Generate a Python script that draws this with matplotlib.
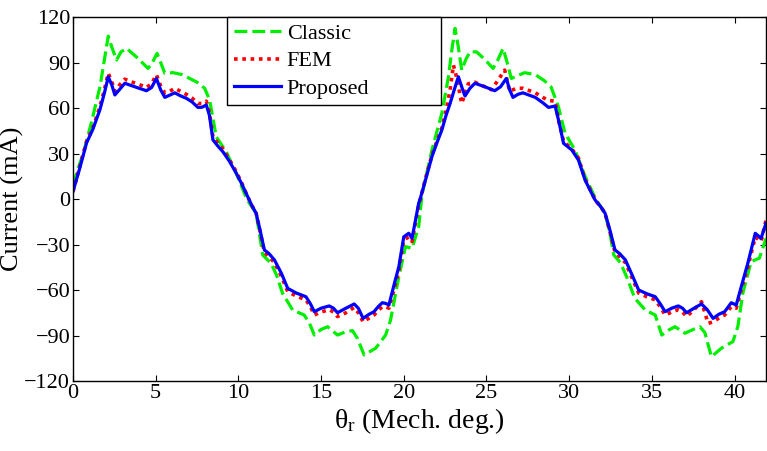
import numpy as np
import matplotlib.pyplot as plt

plt.rcParams['font.family'] = ['Liberation Serif', 'DejaVu Serif']
plt.rcParams['mathtext.fontset'] = 'custom'
plt.rcParams['mathtext.rm'] = 'Liberation Serif'
plt.rcParams['mathtext.it'] = 'Liberation Serif:italic'

# rotor angle (mech. deg.) and phase current (mA)
theta_prop = [0, 0.4, 0.82, 1.2, 1.63, 1.9, 2.13, 2.35, 2.53, 2.8, 3.13, 3.6, 4.0, 4.44, 4.75,
              5.04, 5.3, 5.55, 5.85, 6.15, 6.5, 6.85, 7.2, 7.55, 7.8, 8.06, 8.25, 8.46, 8.75,
              9.06, 9.45, 9.87, 10.2, 10.5, 10.8, 11.07, 11.3, 11.57, 11.85, 12.18, 12.6, 12.98,
              13.5, 14.08, 14.35, 14.59, 15.0, 15.49, 15.75, 15.99, 16.5, 17.0, 17.25, 17.54,
              17.9, 18.2, 18.45, 18.7, 18.9, 19.1, 19.4, 19.7, 20.0, 20.3, 20.5, 20.9,
              21.0, 21.35, 21.7, 22.0, 22.3, 22.55, 22.8, 23.05, 23.3, 23.5, 23.7, 24.0, 24.3,
              24.9, 25.5, 25.85, 26.2, 26.4, 26.6, 26.9, 27.2, 27.95, 28.4, 28.75, 29.15, 29.4,
              29.66, 30.16, 30.56, 30.96, 31.3, 31.57, 31.9, 32.17, 32.45, 32.77, 33.05, 33.4,
              33.8, 34.2, 34.7, 35.2, 35.5, 35.8, 36.2, 36.6, 36.85, 37.1, 37.55, 38.0, 38.35,
              38.7, 39.05, 39.4, 39.8, 40.1, 40.45, 40.8, 41.25, 41.6, 41.9]
i_prop = [5, 20, 37, 46, 59, 70, 80.6, 75, 68.6, 72, 76.3, 74.5, 73, 71.4, 73.5,
          79.5, 72, 67, 68.5, 70, 68, 66.4, 64, 60.4, 60.5, 62, 55, 39, 35,
          31.2, 25, 17, 10, 3, -4, -9.4, -20, -33.6, -36, -40.2, -49, -58.9,
          -62, -64.4, -69, -74.3, -72, -70.5, -72, -75, -72, -69.2, -72, -78.7,
          -76, -74.3, -71, -68.4, -68.8, -69.9, -57, -44.6, -24.9, -22.6, -25.9, -2.8,
          0.5, 14, 27.9, 37, 45.5, 55, 63, 72, 80.6, 74, 67.9, 73, 76.3,
          74, 71.4, 74, 79.5, 72, 67, 69, 70, 67, 63.5, 60.4, 61.3, 50,
          36.7, 32.3, 25.7, 12.5, 5, -0.7, -5, -9.4, -20, -33.6, -36, -40.2,
          -50, -60, -62.5, -64.4, -69, -74.3, -72, -70.5, -72, -75, -72, -69.2, -73,
          -78.7, -76, -74.3, -68.4, -69.9, -56, -42.4, -22.6, -25.9, -16]

theta_fem = [0, 0.4, 0.82, 1.2, 1.63, 1.9, 2.13, 2.35, 2.53, 2.8, 3.13, 3.6, 4.0, 4.44, 4.75,
             5.04, 5.3, 5.55, 5.85, 6.15, 6.5, 6.85, 7.2, 7.55, 7.8, 8.06, 8.25, 8.46, 8.75,
             9.06, 9.45, 9.87, 10.2, 10.5, 10.8, 11.07, 11.3, 11.57, 11.85, 12.18, 12.6, 12.98,
             13.5, 14.08, 14.35, 14.59, 15.0, 15.49, 15.75, 15.99, 16.5, 17.0, 17.25, 17.54,
             17.9, 18.2, 18.45, 18.7, 18.9, 19.1, 19.4, 19.7, 20.0, 20.3, 20.5, 20.9,
             21.0, 21.35, 21.7, 22.0, 22.3, 22.55, 22.8, 23.0, 23.2, 23.5, 23.9, 24.3,
             24.9, 25.3, 25.7, 26.1, 26.4, 26.8, 27.2, 27.95, 28.4, 28.75, 29.15, 29.35,
             29.66, 30.16, 30.56, 30.96, 31.3, 31.57, 31.9, 32.17, 32.45, 32.77, 33.05, 33.4,
             33.8, 34.2, 34.7, 35.2, 35.5, 35.8, 36.2, 36.6, 36.85, 37.1, 37.55, 38.0, 38.4,
             38.7, 39.05, 39.4, 39.8, 40.1, 40.45, 40.8, 41.25, 41.6, 41.9]
i_fem = [5, 21, 38, 47, 61, 72, 83, 77, 71, 75, 79, 77, 75.5, 73.5, 76,
         82, 74.5, 70, 71, 73, 71, 69, 66.5, 63, 63, 64.5, 57, 41, 37,
         33, 26, 18, 10.5, 3, -4, -9.4, -21, -35, -38, -42, -51, -61,
         -64, -66.5, -71, -76.5, -74.5, -73, -74.5, -77.5, -75, -71.5, -75, -81,
         -78.5, -76.5, -73.5, -71, -71, -72, -60, -47, -27, -25, -28, -4,
         0, 15, 29, 38, 47, 58, 72, 88.3, 80, 63, 76, 77,
         74, 72, 78.4, 85, 71, 73, 73, 70, 67, 65, 64.5, 52,
         38, 33, 27, 13, 5.5, -0.7, -5, -9.4, -21, -35, -38, -42,
         -52, -62, -64.5, -66.5, -71, -76.5, -74.5, -73, -74.5, -77.5, -73, -67.7, -82,
         -81, -78.5, -76.5, -71, -72, -58, -45, -25, -28, -14]

theta_cls = [0, 0.3, 0.62, 1.1, 1.63, 1.9, 2.13, 2.35, 2.63, 2.9, 3.24, 3.9, 4.54, 4.8, 5.08,
             5.3, 5.55, 6.05, 6.6, 7.05, 7.5, 7.96, 8.26, 8.66, 9.26, 9.87, 10.5, 11.07, 11.3,
             11.47, 11.97, 12.3, 12.67, 13.28, 13.98, 14.3, 14.59, 15.0, 15.39, 15.7, 15.99,
             16.5, 16.9, 17.2, 17.6, 18.3, 18.9, 19.2, 19.7, 20.1, 20.5, 20.9,
             21.1, 21.7, 22.3, 22.7, 22.9, 23.1, 23.3, 23.5, 23.75, 24.0, 24.4, 24.9, 25.4,
             25.7, 26.0, 26.25, 26.5, 27.3, 27.95, 28.5, 28.9, 29.35, 29.75, 30.35, 30.96,
             31.6, 32.17, 32.45, 32.7, 33.1, 33.5, 33.97, 34.6, 35.2, 35.6, 36.0, 36.4, 37.0,
             37.5, 37.9, 38.2, 38.6, 39.2, 39.9, 40.2, 40.5, 41.0, 41.5, 41.9]
i_cls = [9, 20, 30, 50, 74, 92, 107.4, 100, 91.6, 97, 99.3, 93, 86.1, 90, 96,
         90, 82.9, 83.3, 82, 79.5, 77, 73, 65.3, 41, 31.2, 17, 0, -9.4, -25,
         -36.9, -42.4, -50, -62.2, -73.2, -76.5, -82, -89.7, -86, -84.2, -87, -89.7,
         -87.5, -86.8, -92, -102.8, -98.4, -89.7, -79.8, -51.2, -31.4, -32.5, -18.3,
         3, 32.3, 56.5, 80.6, 98, 112.5, 100, 85, 92, 97.1, 97, 92, 86.1,
         92, 99.3, 90, 79.5, 83.3, 82, 78, 74, 60.8, 43.3, 32.3, 15,
         0, -9.4, -22, -37, -42, -52, -65.5, -73.2, -76.5, -89.7, -86.5, -84.2, -88.5,
         -86, -84.2, -88, -104, -98.4, -94, -84, -62, -41.3, -39, -26]

fig = plt.figure(figsize=(7.67, 4.51), dpi=100)
ax = fig.add_axes([0.0952, 0.1552, 0.9035, 0.8071])

ax.plot(theta_cls, i_cls, color='#00ee00', lw=2.3, linestyle=(0, (4, 1.6)), label='Classic')
ax.plot(theta_fem, i_fem, color='#ff0000', lw=2.6, linestyle=(0, (1, 1.3)),
        dash_capstyle='butt', label='FEM')
ax.plot(theta_prop, i_prop, color='#0000ff', lw=2.3, label='Proposed')

ax.set_xlim(0, 41.9)
ax.set_ylim(-120, 120)
ax.set_xticks([0, 5, 10, 15, 20, 25, 30, 35, 40])
ax.set_yticks(np.arange(-120, 121, 30))
ax.tick_params(direction='in', top=True, right=True, length=4, width=0.8,
               labelsize=16, pad=2)
for sp in ax.spines.values():
    sp.set_linewidth(1.0)

ax.set_xlabel(r'$\mathrm{θ_r}$ (Mech. deg.)', fontsize=20, labelpad=2)
ax.set_ylabel('Current (mA)', fontsize=19, labelpad=0)

# wide box, entries left-aligned
leg = ax.legend(loc='upper left', bbox_to_anchor=(0.222, 0.0, 0.309, 1.0), mode='expand',
                borderaxespad=0, fontsize=16, fancybox=False, framealpha=1,
                edgecolor='black', handlelength=2.15, handletextpad=0.25,
                labelspacing=0.3, borderpad=0.3)
leg.get_frame().set_linewidth(1.0)

fig.savefig('out.png', dpi=100)
